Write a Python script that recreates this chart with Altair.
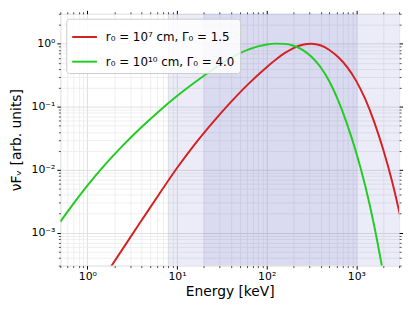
import altair as alt
import pandas as pd

# ---- data ----
red_label = "r₀ = 10⁷ cm, Γ₀ = 1.5"
green_label = "r₀ = 10¹⁰ cm, Γ₀ = 4.0"

red_E = [1.585, 2.512, 3.981, 6.31, 10, 15.85, 25.12, 39.81, 63.1, 100, 125.9, 158.5,
         199.5, 251.2, 316.2, 398.1, 501.2, 631, 794.3, 1000, 1259, 1585, 1995, 2512, 3162]
red_F = [2.11e-4, 5.69e-4, 1.53e-3, 4.09e-3, 0.01066, 0.0256, 0.0567, 0.1184, 0.2333,
         0.4253, 0.559, 0.710, 0.856, 0.966, 1.006, 0.950, 0.799, 0.610, 0.422, 0.2556,
         0.1318, 0.0572, 0.0210, 6.42e-3, 1.576e-3]

green_E = [0.501, 0.631, 1.0, 1.585, 2.512, 3.981, 6.31, 10, 15.85, 25.12, 39.81, 63.1,
           100, 125.9, 158.5, 199.5, 251.2, 316.2, 398.1, 501.2, 631, 794.3, 1000, 1259,
           1585, 1995]
green_F = [1.496e-3, 2.366e-3, 5.585e-3, 0.01216, 0.02455, 0.04677, 0.0851, 0.1479,
           0.2449, 0.3917, 0.5957, 0.8166, 0.975, 1.007, 0.998, 0.932, 0.8026, 0.6228,
           0.4285, 0.2523, 0.1236, 0.05152, 0.01849, 5.52e-3, 1.279e-3, 2.275e-4]

band_lo = [8, 20]
band_hi = [40000, 1000]

x_domain = [0.5, 3000]
y_domain = [3e-4, 3]
x_ticks = [m * 10 ** d for d in range(-1, 4) for m in range(1, 10)]
x_ticks = [v for v in x_ticks if x_domain[0] <= v <= x_domain[1]]
y_ticks = [m * 10.0 ** d for d in range(-4, 1) for m in range(1, 10)]
y_ticks = [v for v in y_ticks if y_domain[0] <= v <= y_domain[1]]

lines_df = pd.DataFrame({
    "E": red_E + green_E,
    "F": red_F + green_F,
    "series": [red_label] * len(red_E) + [green_label] * len(green_E),
    "i": list(range(len(red_E))) + list(range(len(green_E))),
})
bands_df = pd.DataFrame({"lo": band_lo, "hi": band_hi})

FONT = "DejaVu Sans"
major = "abs(log(datum.value)/LN10 - round(log(datum.value)/LN10)) < 0.001"
sup = ("['10⁻⁴','10⁻³','10⁻²','10⁻¹','10⁰','10¹','10²','10³']"
       "[round(log(datum.value)/LN10)+4]")
label_expr = f"{major} ? {sup} : ''"
tick_size = {"condition": {"test": major, "value": 3.5}, "value": 2}
tick_width = {"condition": {"test": major, "value": 1}, "value": 0.7}
grid_color = {"condition": {"test": major, "value": "#d8d8d8"}, "value": "#ebebeb"}

xscale = alt.Scale(type="log", domain=x_domain, nice=False)
yscale = alt.Scale(type="log", domain=y_domain, nice=False)

common = dict(domain=False, tickColor="black", tickSize=tick_size, tickWidth=tick_width,
              labelOverlap=False, labelFlush=False, labelBound=False,
              labelFont=FONT, labelFontSize=11, labelColor="black",
              titleFont=FONT, titleFontSize=14, titleFontWeight="normal",
              titleColor="black")

x_bottom = alt.Axis(orient="bottom", values=x_ticks, labelExpr=label_expr, grid=True,
                    gridColor=grid_color, gridWidth=0.8, labelPadding=2,
                    title="Energy [keV]", titlePadding=3, **common)
y_left = alt.Axis(orient="left", values=y_ticks, labelExpr=label_expr, grid=True,
                  gridColor=grid_color, gridWidth=0.8, labelPadding=2,
                  title="νFᵥ [arb. units]", titlePadding=8, **common)
x_top = alt.Axis(orient="top", values=x_ticks, labels=False, grid=False, title=None,
                 **common)
y_right = alt.Axis(orient="right", values=y_ticks, labels=False, grid=False, title=None,
                   **common)

bands = alt.Chart(bands_df).mark_rect(
    clip=True, fill="#3030b0", stroke="#3030b0", strokeWidth=1, opacity=0.09
).encode(
    x=alt.X("lo:Q", scale=xscale, axis=x_bottom),
    x2="hi:Q",
)

lines = alt.Chart(lines_df).mark_line(
    clip=True, strokeWidth=2, interpolate="monotone"
).encode(
    x=alt.X("E:Q", scale=xscale, axis=None),
    y=alt.Y("F:Q", scale=yscale, axis=y_left),
    color=alt.Color("series:N",
                    scale=alt.Scale(domain=[red_label, green_label],
                                    range=["#d42222", "#22cc22"]),
                    legend=alt.Legend(title=None, orient="none", legendX=6, legendY=5,
                                      symbolType="stroke", symbolSize=625,
                                      symbolStrokeWidth=2, labelFont=FONT,
                                      labelFontSize=12, labelColor="black",
                                      labelOffset=8, padding=5, rowPadding=5,
                                      fillColor="rgba(255,255,255,0.85)",
                                      strokeColor="#cccccc", cornerRadius=3)),
    order="i:Q",
)

ghost = alt.Chart(lines_df).mark_point(opacity=0).encode(
    x=alt.X("E:Q", scale=xscale, axis=x_top),
    y=alt.Y("F:Q", scale=yscale, axis=y_right),
)

chart = alt.layer(bands, lines, ghost).resolve_axis(
    x="independent", y="independent"
).properties(
    width=343, height=255,
    autosize=alt.AutoSizeParams(type="none"),
    padding={"left": 53, "top": 4, "right": 8, "bottom": 36},
).configure_view(stroke="black", strokeWidth=1.1).configure(background="white")

chart.save("out.html", embed_options={"renderer": "svg", "actions": False})
